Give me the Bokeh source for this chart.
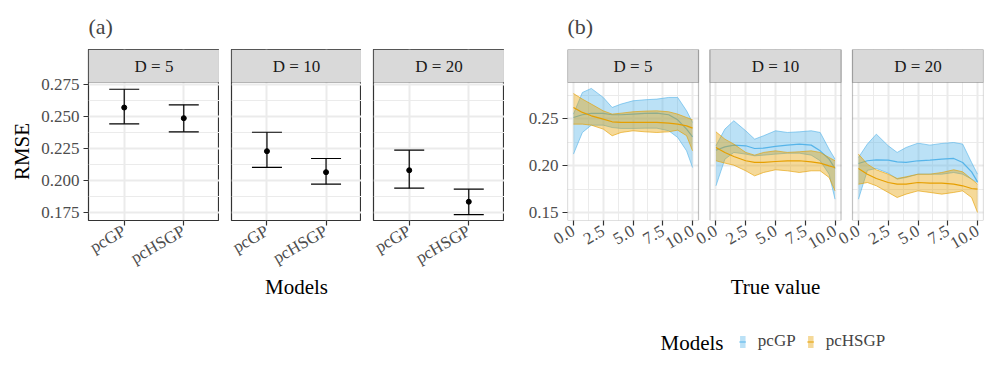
from math import pi
from bokeh.plotting import figure
from bokeh.models import (FactorRange, Range1d, FixedTicker, Grid, BoxAnnotation, Whisker,
                          TeeHead, ColumnDataSource, Legend, LegendItem, Label, Spacer)
from bokeh.layouts import row, column
from bokeh.embed import file_html
from bokeh.resources import INLINE

FONT = "Liberation Serif"
GP_COLOR = "#56B4E9"
HS_COLOR = "#E69F00"

# ---------------- data: panel (a) ----------------
models = ["pcGP", "pcHSGP"]
facets = ["D = 5", "D = 10", "D = 20"]
rmse_mean_d5 = [0.2570, 0.2487]
rmse_lo_d5 = [0.2443, 0.2380]
rmse_hi_d5 = [0.2713, 0.2591]
rmse_mean_d10 = [0.2229, 0.2065]
rmse_lo_d10 = [0.2102, 0.1971]
rmse_hi_d10 = [0.2377, 0.2172]
rmse_mean_d20 = [0.2080, 0.1834]
rmse_lo_d20 = [0.1940, 0.1734]
rmse_hi_d20 = [0.2237, 0.1932]

a_ylim = (0.16875, 0.27656)
a_yticks = [0.175, 0.200, 0.225, 0.250, 0.275]
a_ylabels = ["0.175", "0.200", "0.225", "0.250", "0.275"]
a_yminor = [0.1875, 0.2125, 0.2375, 0.2625]

# ---------------- data: panel (b) ----------------
true_value = [0, 0.75, 1.5, 2.5, 3.25, 4, 5, 6, 7, 8, 8.75, 9.5, 10]

gp5_hi = [0.2550, 0.2781, 0.2824, 0.2728, 0.2621, 0.2657, 0.2692, 0.2703, 0.2710, 0.2728, 0.2728, 0.2585, 0.2461]
gp5_mid = [0.2514, 0.2543, 0.2557, 0.2557, 0.2543, 0.2543, 0.2550, 0.2557, 0.2560, 0.2543, 0.2489, 0.2390, 0.2308]
gp5_lo = [0.2123, 0.2354, 0.2432, 0.2432, 0.2407, 0.2397, 0.2397, 0.2400, 0.2400, 0.2372, 0.2301, 0.2158, 0.1980]
hs5_hi = [0.2770, 0.2710, 0.2657, 0.2585, 0.2550, 0.2560, 0.2575, 0.2582, 0.2585, 0.2575, 0.2550, 0.2514, 0.2490]
hs5_mid = [0.2621, 0.2568, 0.2532, 0.2496, 0.2468, 0.2461, 0.2461, 0.2461, 0.2461, 0.2454, 0.2443, 0.2425, 0.2400]
hs5_lo = [0.2443, 0.2443, 0.2432, 0.2390, 0.2319, 0.2354, 0.2372, 0.2361, 0.2354, 0.2361, 0.2379, 0.2320, 0.2158]

gp10_hi = [0.2212, 0.2390, 0.2479, 0.2372, 0.2283, 0.2319, 0.2372, 0.2354, 0.2361, 0.2372, 0.2354, 0.2176, 0.2069]
gp10_mid = [0.2165, 0.2201, 0.2219, 0.2212, 0.2183, 0.2187, 0.2205, 0.2219, 0.2230, 0.2219, 0.2158, 0.2069, 0.1970]
gp10_lo = [0.1785, 0.2069, 0.2141, 0.2123, 0.2105, 0.2112, 0.2123, 0.2133, 0.2133, 0.2112, 0.2052, 0.1909, 0.1642]
hs10_hi = [0.2361, 0.2283, 0.2230, 0.2141, 0.2112, 0.2141, 0.2158, 0.2141, 0.2148, 0.2158, 0.2141, 0.2087, 0.2052]
hs10_mid = [0.2194, 0.2141, 0.2098, 0.2052, 0.2034, 0.2034, 0.2044, 0.2052, 0.2052, 0.2041, 0.2027, 0.1998, 0.1980]
hs10_lo = [0.2052, 0.2027, 0.2005, 0.1945, 0.1891, 0.1927, 0.1956, 0.1945, 0.1927, 0.1945, 0.1945, 0.1874, 0.1731]

gp20_hi = [0.2087, 0.2230, 0.2336, 0.2212, 0.2141, 0.2194, 0.2240, 0.2219, 0.2237, 0.2247, 0.2230, 0.2034, 0.1909]
gp20_mid = [0.2023, 0.2052, 0.2062, 0.2059, 0.2041, 0.2034, 0.2052, 0.2059, 0.2069, 0.2077, 0.2034, 0.1934, 0.1827]
gp20_lo = [0.1642, 0.1950, 0.1970, 0.1920, 0.1856, 0.1874, 0.1909, 0.1909, 0.1909, 0.1927, 0.1909, 0.1856, 0.1820]
hs20_hi = [0.2123, 0.2016, 0.1956, 0.1909, 0.1863, 0.1881, 0.1909, 0.1909, 0.1927, 0.1956, 0.1934, 0.1856, 0.1802]
hs20_mid = [0.1970, 0.1909, 0.1863, 0.1820, 0.1802, 0.1802, 0.1820, 0.1813, 0.1813, 0.1802, 0.1785, 0.1756, 0.1749]
hs20_lo = [0.1802, 0.1820, 0.1785, 0.1714, 0.1660, 0.1696, 0.1731, 0.1714, 0.1696, 0.1714, 0.1731, 0.1660, 0.1500]

b_xlim = (-0.5, 10.5)
b_ylim = (0.14146, 0.28874)
b_xticks = [0, 2.5, 5, 7.5, 10]
b_xlabels = ["0.0", "2.5", "5.0", "7.5", "10.0"]
b_xminor = [1.25, 3.75, 6.25, 8.75]
b_yticks = [0.15, 0.20, 0.25]
b_ylabels = ["0.15", "0.20", "0.25"]
b_yminor = [0.175, 0.225, 0.275]

# ---------------- layout constants (pixels) ----------------
TOP = 47
FRAME_H = 171
STRIP_H = 33
BOTTOM = 82
YT_W = 38          # canvas holding the "RMSE" title
YT_X = 21
A_LEFT = [50, 12, 12]
A_FRAME_W = [131, 130, 131]
B_LEFT = 63
B_RIGHT = 8
B_FRAME_W = 416
B_PANEL_W = 131
LEG_X = 642
LEG_W = 340
LEG_H = 70
LEG_TITLE_X = 18
LEG_MID_Y = 30

GRID_COL = "#EBEBEB"
BORDER_COL = "#333333"
STRIP_COL = "#D9D9D9"


def with_strip(lim):
    lo, hi = lim
    return Range1d(lo, hi + (hi - lo) * STRIP_H / (FRAME_H - STRIP_H))


def bare(p):
    p.outline_line_color = None
    for g in p.grid:
        g.visible = False


def style_axis(ax):
    ax.axis_line_color = None
    ax.major_tick_line_color = BORDER_COL
    ax.major_tick_line_width = 1.2
    ax.major_tick_out = 5
    ax.major_tick_in = 0
    ax.minor_tick_line_color = None
    ax.major_label_text_font = FONT
    ax.major_label_text_font_size = "17px"
    ax.major_label_text_color = "#4D4D4D"
    ax.major_label_standoff = 4
    ax.axis_label_text_font = FONT
    ax.axis_label_text_font_size = "21px"
    ax.axis_label_text_font_style = "normal"
    ax.axis_label_text_color = "black"


def style_grid(g, minor=True):
    g.grid_line_color = GRID_COL
    g.grid_line_width = 2
    if minor:
        g.minor_grid_line_color = GRID_COL
        g.minor_grid_line_width = 1
    else:
        g.minor_grid_line_color = None


def style_title(p, text):
    p.title.text = text
    p.title.text_font = FONT
    p.title.text_font_size = "22px"
    p.title.text_font_style = "normal"
    p.title.align = "left"
    p.title.standoff = 22


def strip_label(text, x, y, **kw):
    return Label(x=x, y=y, text=text, text_font=FONT, text_font_size="17px",
                 text_color="#1A1A1A", text_align="center", text_baseline="middle", **kw)


# ---------------- y title of panel (a), centred on the panels below the strips ----------------
py = figure(frame_width=YT_W, frame_height=FRAME_H,
            x_range=Range1d(0, YT_W), y_range=with_strip(a_ylim),
            output_backend="svg", toolbar_location=None,
            x_axis_location=None, y_axis_location=None,
            min_border_left=0, min_border_right=0,
            min_border_top=TOP, min_border_bottom=BOTTOM)
bare(py)
py.add_layout(Label(x=YT_X, y=(a_ylim[0] + a_ylim[1]) / 2, text="RMSE", angle=pi / 2,
                    text_font=FONT, text_font_size="21px", text_color="black",
                    text_align="center", text_baseline="middle"))

# ---------------- panel (a) ----------------
a_data = [(rmse_mean_d5, rmse_lo_d5, rmse_hi_d5),
          (rmse_mean_d10, rmse_lo_d10, rmse_hi_d10),
          (rmse_mean_d20, rmse_lo_d20, rmse_hi_d20)]

a_figs = []
for i, (facet, (mean, lo, hi)) in enumerate(zip(facets, a_data)):
    yr = with_strip(a_ylim)
    p = figure(frame_width=A_FRAME_W[i], frame_height=FRAME_H,
               x_range=FactorRange(factors=models, range_padding=0.1),
               y_range=yr, output_backend="svg", toolbar_location=None,
               y_axis_location="left" if i == 0 else None,
               min_border_left=A_LEFT[i], min_border_right=0,
               min_border_top=TOP, min_border_bottom=BOTTOM)
    p.outline_line_color = BORDER_COL
    p.outline_line_width = 1.2
    style_grid(p.xgrid[0], minor=False)
    style_grid(p.ygrid[0])
    p.ygrid[0].ticker = FixedTicker(ticks=a_yticks, minor_ticks=a_yminor)

    xa = p.xaxis[0]
    style_axis(xa)
    xa.major_label_orientation = pi / 6
    if i == 1:
        xa.axis_label = "Models"
        xa.axis_label_standoff = -4
    if i == 0:
        ya = p.yaxis[0]
        style_axis(ya)
        ya.ticker = FixedTicker(ticks=a_yticks, minor_ticks=[])
        ya.major_label_overrides = dict(zip(a_yticks, a_ylabels))
        style_title(p, "(a)")

    src = ColumnDataSource(dict(model=models, mean=mean, lo=lo, hi=hi))
    w = Whisker(base="model", upper="hi", lower="lo", source=src,
                line_color="black", line_width=1.2,
                upper_head=TeeHead(size=30, line_color="black", line_width=1.2),
                lower_head=TeeHead(size=30, line_color="black", line_width=1.2))
    p.add_layout(w)
    p.scatter("model", "mean", source=src, size=5, color="black")

    p.add_layout(BoxAnnotation(bottom=a_ylim[1], fill_color=STRIP_COL, fill_alpha=1,
                               line_color=BORDER_COL, line_width=1.2))
    p.add_layout(strip_label(facet, len(models) / 2, (a_ylim[1] + yr.end) / 2))
    a_figs.append(p)

# ---------------- panel (b) ----------------
unit = (b_xlim[1] - b_xlim[0]) / B_PANEL_W
step = (B_FRAME_W - B_PANEL_W) / 2  # distance between panel left edges (px)
ranges = []
for k in range(3):
    start = b_xlim[0] - k * step * unit
    ranges.append(Range1d(start, start + B_FRAME_W * unit))

yb = with_strip(b_ylim)
pb = figure(frame_width=B_FRAME_W, frame_height=FRAME_H, x_range=ranges[0], y_range=yb,
            output_backend="svg", toolbar_location=None,
            min_border_left=B_LEFT, min_border_right=B_RIGHT,
            min_border_top=TOP, min_border_bottom=BOTTOM)
pb.extra_x_ranges = {"p1": ranges[1], "p2": ranges[2]}
names = ["default", "p1", "p2"]
bare(pb)
style_title(pb, "(b)")

all_ticks, overrides = [], {}
for k in range(3):
    for t, lab in zip(b_xticks, b_xlabels):
        pos = t + k * step * unit
        all_ticks.append(pos)
        overrides[pos] = lab
xb = pb.xaxis[0]
style_axis(xb)
xb.ticker = FixedTicker(ticks=all_ticks, minor_ticks=[])
xb.major_label_overrides = overrides
xb.major_label_orientation = pi / 6
xb.axis_label = "True value"
xb.axis_label_standoff = 18

ybx = pb.yaxis[0]
style_axis(ybx)
ybx.ticker = FixedTicker(ticks=b_yticks, minor_ticks=[])
ybx.major_label_overrides = dict(zip(b_yticks, b_ylabels))

b_data = [
    ((gp5_lo, gp5_mid, gp5_hi), (hs5_lo, hs5_mid, hs5_hi)),
    ((gp10_lo, gp10_mid, gp10_hi), (hs10_lo, hs10_mid, hs10_hi)),
    ((gp20_lo, gp20_mid, gp20_hi), (hs20_lo, hs20_mid, hs20_hi)),
]

for k, (facet, series) in enumerate(zip(facets, b_data)):
    nm = names[k]
    gx = Grid(dimension=0, x_range_name=nm,
              ticker=FixedTicker(ticks=b_xticks, minor_ticks=b_xminor))
    style_grid(gx)
    gy = Grid(dimension=1, x_range_name=nm, cross_bounds=b_xlim,
              ticker=FixedTicker(ticks=b_yticks, minor_ticks=b_yminor))
    style_grid(gy)
    pb.add_layout(gx)
    pb.add_layout(gy)
    for (lo, mid, hi), col in zip(series, [GP_COLOR, HS_COLOR]):
        src = ColumnDataSource(dict(x=true_value, lo=lo, mid=mid, hi=hi))
        pb.varea(x="x", y1="lo", y2="hi", source=src, x_range_name=nm,
                 fill_color=col, fill_alpha=0.4)
        pb.line("x", "lo", source=src, x_range_name=nm, line_color=col, line_width=0.7, line_alpha=0.9)
        pb.line("x", "hi", source=src, x_range_name=nm, line_color=col, line_width=0.7, line_alpha=0.9)
        pb.line("x", "mid", source=src, x_range_name=nm, line_color=col, line_width=1.2)
    pb.add_layout(BoxAnnotation(left=b_xlim[0], right=b_xlim[1], x_range_name=nm,
                                fill_color=None, line_color=BORDER_COL, line_width=1.2))
    pb.add_layout(BoxAnnotation(left=b_xlim[0], right=b_xlim[1], bottom=b_ylim[1], x_range_name=nm,
                                fill_color=STRIP_COL, fill_alpha=1,
                                line_color=BORDER_COL, line_width=1.2))
    pb.add_layout(strip_label(facet, (b_xlim[0] + b_xlim[1]) / 2, (b_ylim[1] + yb.end) / 2,
                              x_range_name=nm))

# ---------------- shared legend (its own small canvas under panel (b)) ----------------
pl = figure(width=LEG_W, height=LEG_H, x_range=Range1d(0, LEG_W), y_range=Range1d(0, LEG_H),
            output_backend="svg", toolbar_location=None,
            x_axis_location=None, y_axis_location=None, min_border=0)
bare(pl)
# the key glyphs reuse the first facet's series on a y scale that keeps them out of view
pl.extra_y_ranges = {"keys": Range1d(10, 11)}
items = []
for (lo, mid, hi), m, col in zip(b_data[0], models, [GP_COLOR, HS_COLOR]):
    key_src = ColumnDataSource(dict(x=true_value, lo=lo, mid=mid, hi=hi))
    band = pl.varea(x="x", y1="lo", y2="hi", source=key_src, y_range_name="keys",
                    fill_color=col, fill_alpha=0.4)
    ln = pl.line("x", "mid", source=key_src, y_range_name="keys", line_color=col, line_width=1.2)
    items.append(LegendItem(label=m, renderers=[band, ln]))
legend = Legend(items=items, orientation="horizontal", location="top_center",
                label_text_font=FONT, label_text_font_size="17px", label_standoff=12,
                glyph_width=7, glyph_height=15, spacing=11, padding=0, margin=29,
                border_line_color=None, background_fill_alpha=0)
pl.add_layout(legend)
pl.add_layout(Label(x=LEG_TITLE_X, y=LEG_MID_Y, text="Models", text_font=FONT,
                    text_font_size="21px", text_color="black",
                    text_align="left", text_baseline="middle"))

layout = column(row(py, *a_figs, pb), row(Spacer(width=LEG_X, height=LEG_H), pl))
open("out.html", "w").write(file_html(layout, INLINE))
